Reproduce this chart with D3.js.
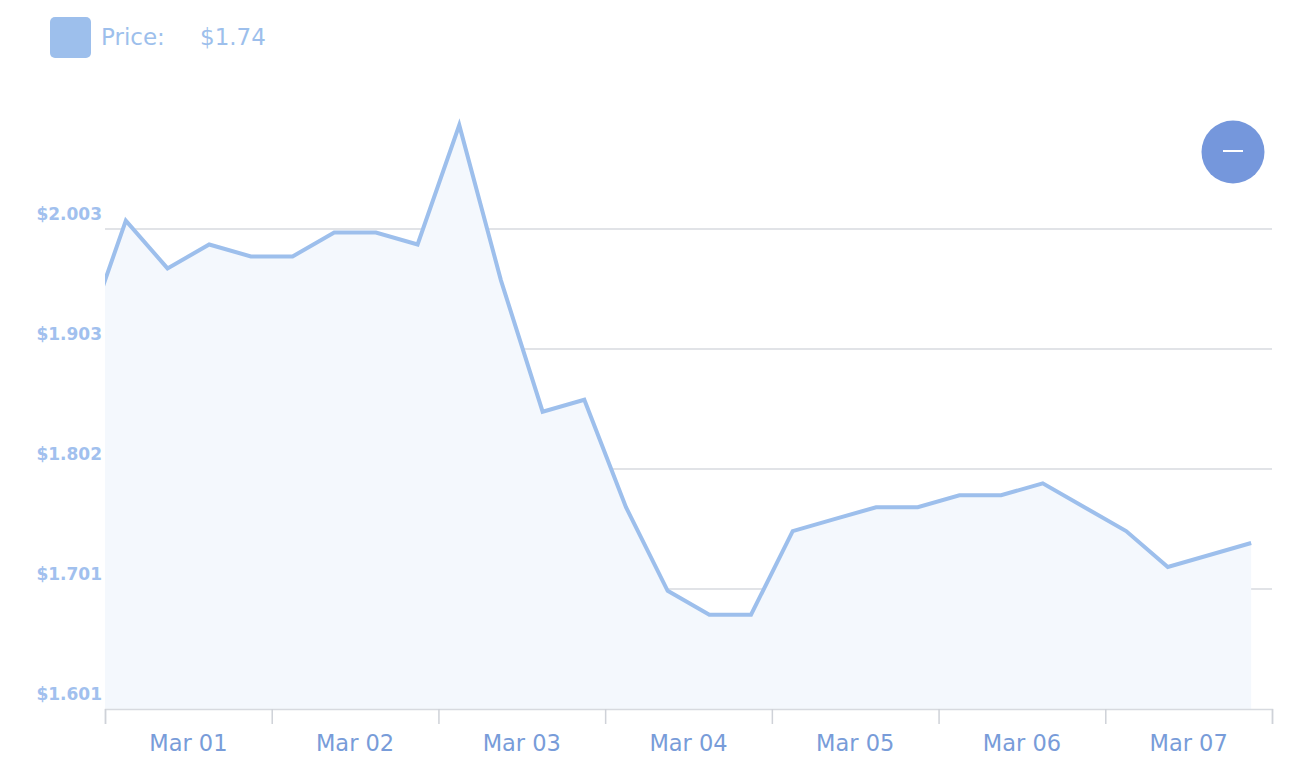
<!DOCTYPE html>
<html>
<head>
<meta charset="utf-8">
<script src="https://cdn.jsdelivr.net/npm/d3@7"></script>
<style>
  html, body { margin: 0; padding: 0; background: #fff; }
  svg { display: block; }
</style>
</head>
<body>
<svg id="chart" width="1296" height="782"></svg>
<script>
// ---- data ----
const times = [
  "2021-02-28T21:00",
  "2021-03-01T03:00","2021-03-01T09:00","2021-03-01T15:00","2021-03-01T21:00",
  "2021-03-02T03:00","2021-03-02T09:00","2021-03-02T15:00","2021-03-02T21:00",
  "2021-03-03T03:00","2021-03-03T09:00","2021-03-03T15:00","2021-03-03T21:00",
  "2021-03-04T03:00","2021-03-04T09:00","2021-03-04T15:00","2021-03-04T21:00",
  "2021-03-05T03:00","2021-03-05T09:00","2021-03-05T15:00","2021-03-05T21:00",
  "2021-03-06T03:00","2021-03-06T09:00","2021-03-06T15:00","2021-03-06T21:00",
  "2021-03-07T03:00","2021-03-07T09:00","2021-03-07T15:00","2021-03-07T21:00"
];
const prices = [
  1.91,
  2.01, 1.97, 1.99, 1.98,
  1.98, 2.00, 2.00, 1.99,
  2.09, 1.96, 1.85, 1.86,
  1.77, 1.70, 1.68, 1.68,
  1.75, 1.76, 1.77, 1.77,
  1.78, 1.78, 1.79, 1.77,
  1.75, 1.72, 1.73, 1.74
];
const yTickValues = [1.601, 1.7015, 1.802, 1.9025, 2.003];
const yTickLabels = ["$1.601", "$1.701", "$1.802", "$1.903", "$2.003"];
const xDayTicks = ["2021-03-01","2021-03-02","2021-03-03","2021-03-04","2021-03-05","2021-03-06","2021-03-07","2021-03-08"];
const xLabelDays = ["2021-03-01","2021-03-02","2021-03-03","2021-03-04","2021-03-05","2021-03-06","2021-03-07"];
const legendLabel = "Price:";
const legendValue = "$1.74";

// ---- layout ----
const mLeft = 105, mRight = 1272, mTop = 109, mBottom = 709;
const lineColor = "#9dbfec";
const parse = d3.utcParse("%Y-%m-%dT%H:%M");
const parseDay = d3.utcParse("%Y-%m-%d");
const data = times.map((t, i) => ({ t: parse(t), v: prices[i] }));

const svg = d3.select("#chart");

const x = d3.scaleUtc()
  .domain([parseDay(xDayTicks[0]), parseDay(xDayTicks[xDayTicks.length - 1])])
  .range([mLeft, mRight]);
const y = d3.scaleLinear().domain([1.601, 2.1035]).range([mBottom, mTop]);

svg.append("defs").append("clipPath").attr("id", "plotclip")
  .append("rect").attr("x", mLeft).attr("y", 0).attr("width", mRight - mLeft).attr("height", mBottom);

// gridlines
svg.append("g").selectAll("line").data(yTickValues.slice(1)).join("line")
  .attr("x1", mLeft).attr("x2", mRight)
  .attr("y1", d => y(d)).attr("y2", d => y(d))
  .attr("stroke", "#d7dadf").attr("stroke-width", 1.5);

// area + line
const plot = svg.append("g").attr("clip-path", "url(#plotclip)");
plot.append("path").datum(data)
  .attr("d", d3.area().x(d => x(d.t)).y0(mBottom).y1(d => y(d.v)))
  .attr("fill", "#f4f8fd");
plot.append("path").datum(data)
  .attr("d", d3.line().x(d => x(d.t)).y(d => y(d.v)))
  .attr("fill", "none").attr("stroke", lineColor).attr("stroke-width", 4)
  .attr("stroke-linejoin", "miter");

// y labels
svg.append("g").selectAll("text").data(yTickValues).join("text")
  .attr("x", 102).attr("y", d => y(d) - 9)
  .attr("text-anchor", "end")
  .attr("font-family", "DejaVu Sans, Verdana, sans-serif")
  .attr("font-weight", "bold").attr("font-size", 17)
  .attr("fill", "#a1c0ee")
  .text((d, i) => yTickLabels[i]);

// x axis
const xAxis = d3.axisBottom(x)
  .tickValues(xDayTicks.map(parseDay))
  .tickSize(15).tickFormat("");
const gx = svg.append("g").attr("transform", `translate(0,${mBottom})`).call(xAxis);
gx.select(".domain").attr("stroke", "#d7dadf").attr("stroke-width", 1.5);
gx.selectAll(".tick line").attr("stroke", "#cfd2d8").attr("stroke-width", 1.5);

svg.append("g").selectAll("text").data(xLabelDays).join("text")
  .attr("x", d => x(d3.utcHour.offset(parseDay(d), 12)))
  .attr("y", 751)
  .attr("text-anchor", "middle")
  .attr("font-family", "DejaVu Sans, Verdana, sans-serif")
  .attr("font-size", 22.5)
  .attr("fill", "#789cd9")
  .text(d => d3.utcFormat("Mar %d")(parseDay(d)));

// legend
svg.append("rect").attr("x", 50).attr("y", 17).attr("width", 41).attr("height", 41)
  .attr("rx", 5).attr("fill", lineColor);
svg.append("text").attr("x", 101).attr("y", 45)
  .attr("font-family", "DejaVu Sans, Verdana, sans-serif").attr("font-size", 23)
  .attr("fill", lineColor).text(legendLabel);
svg.append("text").attr("x", 200).attr("y", 45)
  .attr("font-family", "DejaVu Sans, Verdana, sans-serif").attr("font-size", 23)
  .attr("fill", lineColor).text(legendValue);

// zoom button
svg.append("circle").attr("cx", 1233).attr("cy", 152).attr("r", 31.5).attr("fill", "#7597dc");
svg.append("line").attr("x1", 1223).attr("x2", 1243).attr("y1", 151).attr("y2", 151)
  .attr("stroke", "#fff").attr("stroke-width", 2);
</script>
</body>
</html>
